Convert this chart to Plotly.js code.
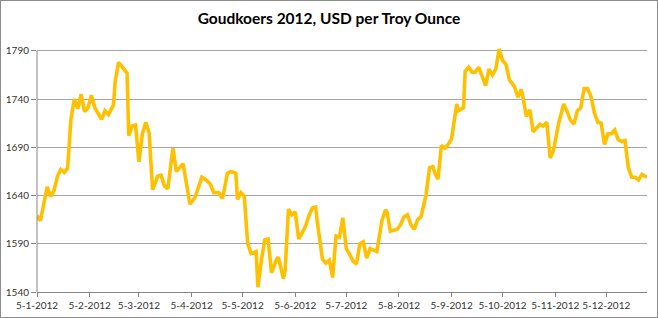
<!DOCTYPE html>
<html>
<head>
<meta charset="utf-8">
<script src="https://cdn.plot.ly/plotly-3.0.1.min.js"></script>
<style>
html,body{margin:0;padding:0;background:#fff;}
#frame{width:656px;height:316px;border:1px solid #8c8c8c;}
#chart{width:656px;height:316px;}
</style>
</head>
<body>
<div id="frame"><div id="chart"></div></div>
<script>
const dates = [
"2012-01-05","2012-01-07","2012-01-11","2012-01-13","2012-01-15","2012-01-17","2012-01-19","2012-01-21","2012-01-23","2012-01-25",
"2012-01-27","2012-01-29","2012-01-31","2012-02-02","2012-02-04","2012-02-06","2012-02-08","2012-02-12","2012-02-14","2012-02-16",
"2012-02-19","2012-02-20","2012-02-22","2012-02-25","2012-02-27","2012-02-28","2012-03-01","2012-03-03","2012-03-05","2012-03-07",
"2012-03-09","2012-03-11","2012-03-13","2012-03-16","2012-03-18","2012-03-20","2012-03-22","2012-03-25","2012-03-27","2012-03-31",
"2012-04-04","2012-04-07","2012-04-11","2012-04-13","2012-04-16","2012-04-18","2012-04-21","2012-04-23","2012-04-24","2012-04-26",
"2012-04-28","2012-05-01","2012-05-02","2012-05-04","2012-05-06","2012-05-08","2012-05-10","2012-05-13","2012-05-14","2012-05-16",
"2012-05-18","2012-05-20","2012-05-22","2012-05-25","2012-05-26","2012-05-29","2012-05-30","2012-06-01","2012-06-03","2012-06-05",
"2012-06-07","2012-06-09","2012-06-11","2012-06-13","2012-06-15","2012-06-17","2012-06-18","2012-06-21","2012-06-23","2012-06-25",
"2012-06-27","2012-06-29","2012-07-01","2012-07-03","2012-07-05","2012-07-07","2012-07-09","2012-07-11","2012-07-13","2012-07-15",
"2012-07-17","2012-07-19","2012-07-21","2012-07-23","2012-07-26","2012-07-28","2012-07-29","2012-07-31","2012-08-04","2012-08-06",
"2012-08-08","2012-08-10","2012-08-12","2012-08-14","2012-08-16","2012-08-18","2012-08-21","2012-08-23","2012-08-25","2012-08-26",
"2012-08-28","2012-08-30","2012-09-01","2012-09-03","2012-09-05","2012-09-08","2012-09-09","2012-09-12","2012-09-13","2012-09-15",
"2012-09-17","2012-09-19","2012-09-21","2012-09-23","2012-09-25","2012-09-27","2012-09-29","2012-10-01","2012-10-03","2012-10-05",
"2012-10-07","2012-10-09","2012-10-12","2012-10-14","2012-10-16","2012-10-17","2012-10-19","2012-10-21","2012-10-23","2012-10-25",
"2012-10-27","2012-10-29","2012-10-31","2012-11-02","2012-11-04","2012-11-07","2012-11-09","2012-11-10","2012-11-12","2012-11-14",
"2012-11-16","2012-11-18","2012-11-20","2012-11-22","2012-11-24","2012-11-26","2012-11-28","2012-11-30","2012-12-02","2012-12-04",
"2012-12-06","2012-12-08","2012-12-10","2012-12-12","2012-12-14","2012-12-16","2012-12-18","2012-12-20","2012-12-22","2012-12-24",
"2012-12-26","2012-12-28","2012-12-29"
];
const prices = [
1619,1614,1649,1639,1645,1660,1667,1664,1668,1720,
1740,1730,1745,1727,1731,1744,1731,1719,1728,1724,
1734,1758,1778,1772,1767,1702,1712,1713,1675,1704,
1716,1705,1646,1660,1661,1650,1647,1689,1665,1673,
1631,1638,1659,1657,1652,1643,1643,1637,1644,1663,
1665,1663,1636,1643,1639,1590,1580,1582,1545,1572,
1594,1595,1560,1574,1576,1554,1562,1626,1620,1623,
1595,1601,1608,1619,1627,1628,1612,1574,1570,1573,
1555,1598,1597,1617,1585,1579,1572,1569,1590,1592,
1575,1585,1583,1582,1614,1625,1623,1603,1605,1610,
1618,1620,1610,1605,1615,1618,1641,1669,1670,1664,
1657,1692,1689,1693,1699,1735,1728,1731,1769,1773,
1768,1768,1773,1762,1754,1771,1765,1771,1792,1780,
1776,1760,1753,1742,1750,1742,1722,1729,1706,1710,
1714,1712,1716,1679,1687,1715,1731,1735,1727,1718,
1714,1728,1731,1751,1751,1743,1726,1716,1715,1693,
1704,1704,1708,1698,1696,1697,1669,1659,1659,1656,
1662,1660,1659
];
const tickDates = ["2012-01-05","2012-02-05","2012-03-05","2012-04-05","2012-05-05","2012-06-05",
"2012-07-05","2012-08-05","2012-09-05","2012-10-05","2012-11-05","2012-12-05"];
const tickLabels = ["5-1-2012","5-2-2012","5-3-2012","5-4-2012","5-5-2012","5-6-2012",
"5-7-2012","5-8-2012","5-9-2012","5-10-2012","5-11-2012","5-12-2012"];
const yTicks = [1540,1590,1640,1690,1740,1790];
const chartTitle = "Goudkoers 2012, USD per Troy Ounce";

const trace = {
  x: dates, y: prices, type: "scatter", mode: "lines",
  line: {color: "#FFC000", width: 3.6},
  hoverinfo: "skip"
};
const layout = {
  width: 656, height: 316,
  margin: {l: 36, r: 10, t: 46, b: 25},
  paper_bgcolor: "#ffffff", plot_bgcolor: "#ffffff",
  showlegend: false,
  font: {family: "Lato, 'Open Sans', sans-serif", color: "#404040"},
  title: {text: chartTitle, x: 0.5, xanchor: "center", y: 0.945, yanchor: "middle",
          font: {family: "Lato, sans-serif", size: 15.5, color: "#000000", weight: "bold"}},
  xaxis: {
    type: "date", range: ["2012-01-05", "2012-12-29"],
    tickmode: "array", tickvals: tickDates, ticktext: tickLabels,
    ticks: "outside", ticklen: 4, tickcolor: "#868686", tickwidth: 1,
    showgrid: false, zeroline: false,
    showline: true, linecolor: "#868686", linewidth: 1,
    tickfont: {size: 10, color: "#333333"}, tickangle: 0
  },
  yaxis: {
    range: [1540, 1794], tickmode: "array", tickvals: yTicks,
    ticks: "outside", ticklen: 5, tickcolor: "#868686", tickwidth: 1,
    showgrid: true, gridcolor: "#a6a6a6", gridwidth: 1,
    zeroline: false, showline: false,
    tickfont: {size: 10, color: "#333333"}
  },
  shapes: [{type: "line", xref: "paper", yref: "y", x0: 0, x1: 0, y0: 1540, y1: 1790,
            line: {color: "#868686", width: 1}}]
};
Plotly.newPlot("chart", [trace], layout, {staticPlot: true, displayModeBar: false});
</script>
</body>
</html>
